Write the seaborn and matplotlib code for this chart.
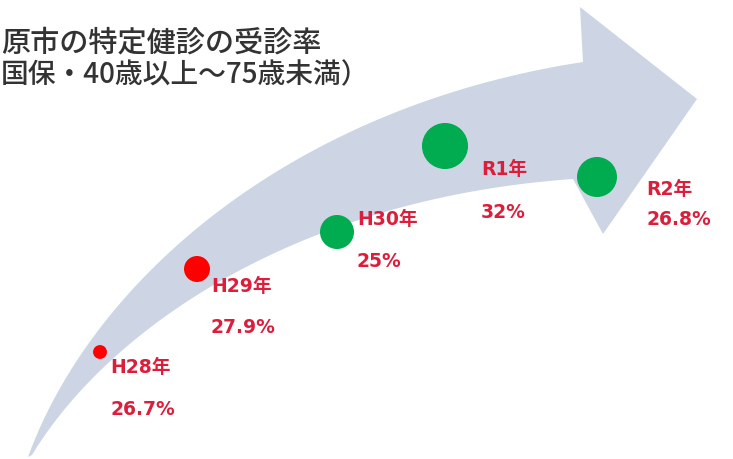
import numpy as np
import pandas as pd
import matplotlib
matplotlib.use("Agg")
import matplotlib.pyplot as plt
from matplotlib.patches import Polygon
import seaborn as sns

# data
years = ['H28年', 'H29年', 'H30年', 'R1年', 'R2年']
rates = [26.7, 27.9, 25, 32, 26.8]
era_colour = ['red', 'red', 'green', 'green', 'green']

# layout (pixel space of the 733x460 picture)
dot_x = [100, 197, 337, 445, 597]
dot_y = [353, 270, 233, 147, 178]
dot_area = [100, 350, 600, 1100, 830]
label_x = [110, 211, 357, 481, 646]
year_y = [368, 287, 220, 170, 190]
rate_y = [410, 328, 262, 213, 220]

sns.set_theme(style='white')
plt.rcParams['font.family'] = ['Noto Sans CJK JP', 'DejaVu Sans']

fig = plt.figure(figsize=(7.33, 4.6), dpi=100)
ax = fig.add_axes([0, 0, 1, 1])
ax.set_xlim(0, 733)
ax.set_ylim(460, 0)
ax.axis('off')


def bezier(p0, p1, p2, p3, n=80):
    t = np.linspace(0, 1, n)[:, None]
    p0, p1, p2, p3 = map(np.array, (p0, p1, p2, p3))
    return ((1 - t) ** 3) * p0 + 3 * ((1 - t) ** 2) * t * p1 + 3 * (1 - t) * t ** 2 * p2 + t ** 3 * p3


# curved arrow in the background
upper = bezier((28, 458), (92, 282), (290, 108), (583, 63))
lower = bezier((32, 456), (105, 335), (290, 200), (573, 180))
head = np.array([(580, 8), (697, 100), (603, 235)])
outline = np.vstack([upper, head, lower[::-1]])
ax.add_patch(Polygon(outline, closed=True, facecolor='#cdd5e4', edgecolor='none', zorder=1))

df = pd.DataFrame({'year': years, 'rate': rates, 'x': dot_x, 'y': dot_y})
pal = {'red': '#ff0000', 'green': '#00ac4f'}
sns.scatterplot(data=df, x='x', y='y', hue=era_colour, palette=pal, s=dot_area,
                linewidth=0, legend=False, ax=ax, zorder=3)

lab_font = ['DejaVu Sans', 'Noto Sans CJK JP']
for i in range(len(years)):
    ax.text(label_x[i], year_y[i], years[i], color='#dc1e3c', fontsize=13.5,
            fontweight='bold', family=lab_font, va='center', ha='left', zorder=4)
    ax.text(label_x[i], rate_y[i], f'{rates[i]:g}%', color='#dc1e3c', fontsize=13.5,
            fontweight='bold', family=lab_font, va='center', ha='left', zorder=4)

# title
ax.text(1, 43, '原市の特定健診の受診率', color='#333333', fontsize=21,
        fontweight='medium', va='center', ha='left')
ax.text(1, 75, '国保・40歳以上～75歳未満）', color='#333333', fontsize=20,
        fontweight='medium', va='center', ha='left')

fig.savefig('out.png', dpi=100)
